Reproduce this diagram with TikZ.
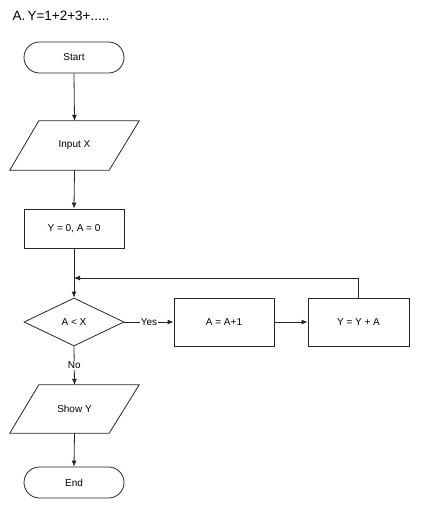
\documentclass[tikz,border=0pt]{standalone}
\usepackage{fontspec}
\setmainfont{Liberation Sans}
\usetikzlibrary{shapes.geometric,arrows.meta}
\begin{document}
\begin{tikzpicture}[x=1pt,y=-1pt,
  every node/.style={font=\fontsize{10}{12}\selectfont},
  base/.style={draw=black!85, line width=0.8pt, inner sep=0pt},
  term/.style={base, rectangle, rounded corners=15.5pt, minimum width=100pt, minimum height=31pt},
  proc/.style={base, rectangle, minimum width=100pt},
  iobox/.style={inner sep=0pt, minimum width=129pt, minimum height=49pt},
  decide/.style={base, diamond, aspect=2.08, minimum width=100pt, minimum height=48pt},
  conn/.style={draw=black!85, line width=0.8pt},
  arr/.style={conn, -{Latex[length=6pt,width=5pt]}},
  lbl/.style={fill=white, inner sep=1pt}
]
\useasboundingbox (0,0) rectangle (422,508);
\node[anchor=base west, font=\fontsize{13.5}{15}\selectfont] (title) at (9,21) {A.\,Y=1+2+3+.....};

\node[term] (start) at (74,57.5) {Start};
\node[iobox] (input) at (74.5,145.5) {Input X};
\draw[conn] ([xshift=29pt]input.north west) -- (input.north east) -- ([xshift=-30pt]input.south east) -- (input.south west) -- cycle;
\node[proc, minimum height=39pt] (init) at (74,228.5) {Y = 0, A = 0};
\node[decide] (cond) at (74,322) {A < X};
\node[proc, minimum height=48pt] (inc) at (224,322) {A = A+1};
\node[proc, minimum height=48pt, minimum width=101pt] (add) at (358.5,322) {Y = Y + A};
\node[iobox, minimum height=48pt] (show) at (74.5,409) {Show Y};
\draw[conn] ([xshift=29pt]show.north west) -- (show.north east) -- ([xshift=-30pt]show.south east) -- (show.south west) -- cycle;
\node[term] (end) at (74,482.5) {End};

\coordinate (join) at (74,278);

\draw[arr] (start.south) -- (input.north);
\draw[arr] (input.south) -- (init.north);
\draw[arr] (init.south) -- (cond.north);
\draw[arr] (cond.east) -- node[lbl] (yes) {Yes} (inc.west);
\draw[arr] (inc.east) -- (add.west);
\draw[arr] (add.north) |- (join);
\draw[arr] (cond.south) -- node[lbl] (no) {No} (show.north);
\draw[arr] (show.south) -- (end.north);
\end{tikzpicture}
\end{document}
